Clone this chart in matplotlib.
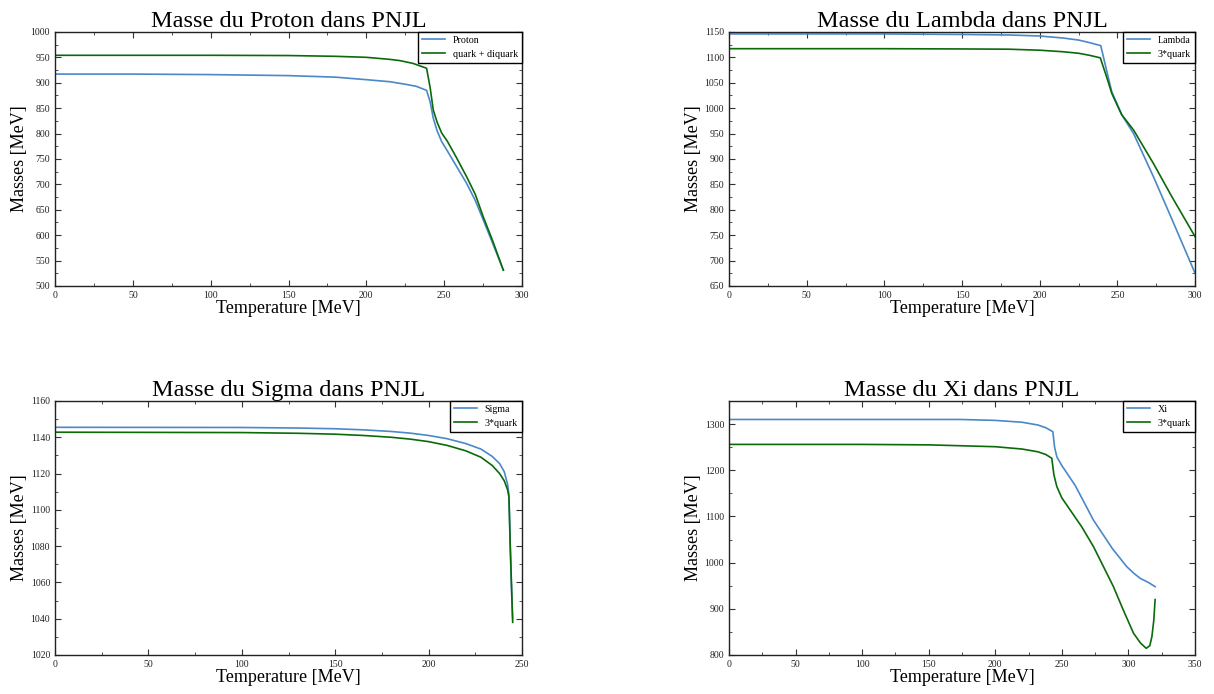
import matplotlib.pyplot as plt
from matplotlib.ticker import MultipleLocator

plt.rcParams['font.family'] = ['Liberation Serif', 'DejaVu Serif']

BLUE = '#4a88c7'
GREEN = '#0a6a0a'

# --- Proton ---
t_proton = [0, 50, 100, 150, 180, 200, 215, 225, 232, 238.7, 241, 243, 245.5, 248.4, 252, 258, 264.4, 270, 275.1, 281, 288]
m_proton = [917, 917, 916, 914, 911, 906, 902, 897, 893, 885, 862, 830, 805, 784, 766, 735, 702, 668, 630, 585, 531]
t_pqd = [0, 50, 100, 150, 180, 200, 215, 221.6, 230, 238.7, 241, 243, 245.5, 248.4, 252, 258, 264.4, 270, 275.1, 281, 288]
m_pqd = [954, 954, 954, 953.5, 952, 950, 946, 943.5, 938, 928.5, 890, 846, 822, 801, 785, 752, 715, 680, 636, 590, 531]

# --- Lambda ---
t_lambda = [0, 50, 100, 150, 180, 200, 215, 225, 232, 239.3, 243, 246.4, 250, 252.8, 260.4, 273.2, 285, 300]
m_lambda = [1146, 1146, 1146, 1145, 1144, 1142, 1138, 1134, 1129, 1123, 1075, 1032, 1007, 987, 950, 865, 782, 675]
t_l3q = [0, 50, 100, 150, 180, 200, 215, 225, 232, 239, 243, 246.4, 250, 252.8, 260.4, 273.2, 285, 300]
m_l3q = [1117, 1117, 1117, 1116.5, 1116, 1114, 1111, 1108, 1104, 1099, 1062, 1029, 1005, 987, 957, 891, 826, 747]

# --- Sigma ---
t_sigma = [0, 100, 130, 150, 165, 180, 190, 200, 210, 220, 228, 234, 238, 240.5, 242.3, 243, 243.7, 244.4, 245]
m_sigma = [1145.5, 1145.4, 1145.1, 1144.7, 1144.1, 1143.2, 1142.3, 1141.0, 1139.2, 1136.5, 1133.5, 1129.5, 1125.5, 1121, 1114, 1108, 1080, 1055, 1040]
t_s3q = [0, 100, 130, 150, 165, 180, 190, 200, 210, 220, 228, 234, 238, 240.5, 242.3, 243, 243.7, 244.4, 245]
m_s3q = [1142.8, 1142.6, 1142.2, 1141.7, 1141.0, 1140.0, 1139.0, 1137.6, 1135.5, 1132.5, 1129, 1124.5, 1120, 1116, 1111, 1107, 1080, 1058, 1038]

# --- Xi ---
t_xi = [0, 50, 100, 150, 173.6, 200, 220, 232, 238, 243.2, 244.5, 246.2, 250, 260, 273.7, 288, 298.8, 304, 308.8, 315, 320]
m_xi = [1310, 1310, 1310, 1310, 1310, 1308, 1304, 1298, 1292, 1283.5, 1250, 1229, 1210, 1167, 1092, 1030, 991, 977, 966, 957, 948]
t_x3q = [0, 50, 100, 150, 200, 220, 232, 238, 242.4, 244, 246.2, 250, 256.2, 265, 273.7, 288.7, 296, 303.8, 309, 313.3, 316, 317.6, 319, 320]
m_x3q = [1256, 1256, 1256, 1255, 1251, 1246, 1240, 1234, 1226, 1190, 1164.5, 1140, 1114, 1077, 1034.7, 948, 898, 847, 826, 814.5, 820, 840, 875, 920]

titles = ['Masse du Proton dans PNJL', 'Masse du Lambda dans PNJL',
          'Masse du Sigma dans PNJL', 'Masse du Xi dans PNJL']
labels = [('Proton', 'quark + diquark'), ('Lambda', '3*quark'),
          ('Sigma', '3*quark'), ('Xi', '3*quark')]
series = [(t_proton, m_proton, t_pqd, m_pqd),
          (t_lambda, m_lambda, t_l3q, m_l3q),
          (t_sigma, m_sigma, t_s3q, m_s3q),
          (t_xi, m_xi, t_x3q, m_x3q)]
xlims = [(0, 300), (0, 300), (0, 250), (0, 350)]
ylims = [(500, 1000), (650, 1150), (1020, 1160), (800, 1350)]
yticks = [(50, 25), (50, 25), (20, 10), (100, 50)]

fig = plt.figure(figsize=(12.14, 6.94), dpi=100)
positions = [[0.0453, 0.588, 0.3847, 0.366], [0.6005, 0.588, 0.3839, 0.366],
             [0.0453, 0.0562, 0.3847, 0.366], [0.6005, 0.0562, 0.3839, 0.366]]

for i in range(4):
    ax = fig.add_axes(positions[i])
    t1, m1, t2, m2 = series[i]
    ax.plot(t1, m1, color=BLUE, lw=1.2, label=labels[i][0])
    ax.plot(t2, m2, color=GREEN, lw=1.2, label=labels[i][1])
    ax.set_xlim(*xlims[i])
    ax.set_ylim(*ylims[i])
    ax.xaxis.set_major_locator(MultipleLocator(50))
    ax.xaxis.set_minor_locator(MultipleLocator(25))
    ax.yaxis.set_major_locator(MultipleLocator(yticks[i][0]))
    ax.yaxis.set_minor_locator(MultipleLocator(yticks[i][1]))
    ax.tick_params(which='both', direction='in', top=True, right=True,
                   labelsize=7, colors='#333333', labelcolor='#222222')
    ax.tick_params(which='major', length=4, width=0.8)
    ax.tick_params(which='minor', length=2, width=0.6)
    for s in ax.spines.values():
        s.set_color('#222222')
        s.set_linewidth(1.0)
    ax.set_title(titles[i], fontsize=17.5, pad=2)
    ax.set_xlabel('Temperature [MeV]', fontsize=13, labelpad=0)
    ax.set_ylabel('Masses [MeV]', fontsize=13, labelpad=2)
    leg = ax.legend(loc='upper right', fontsize=7.2, fancybox=False,
                    borderaxespad=0, framealpha=1, handlelength=2.3)
    leg.get_frame().set_edgecolor('black')
    leg.get_frame().set_linewidth(1.0)

fig.savefig('out.png', dpi=100)
